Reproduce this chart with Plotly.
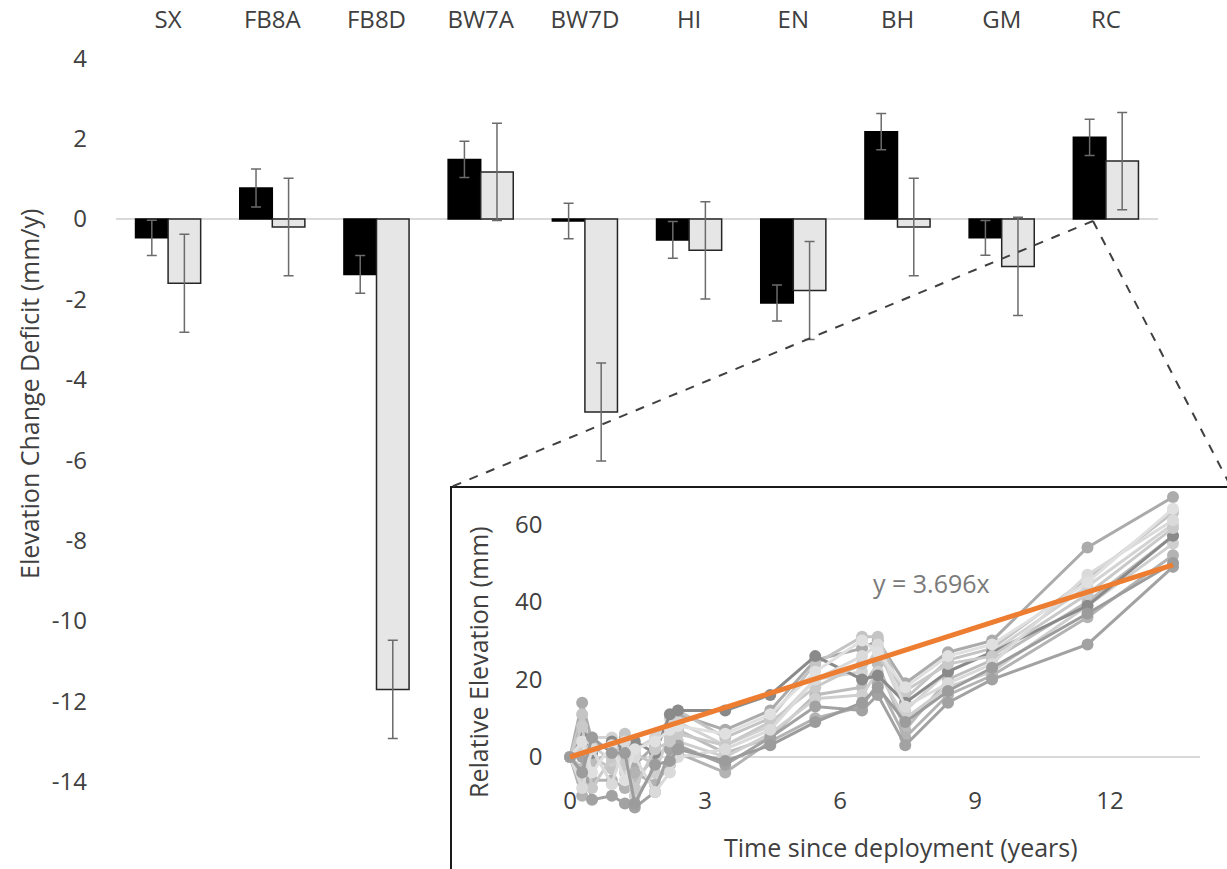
import plotly.graph_objects as go

# ---------------- main bar chart data ----------------
sites = ["SX", "FB8A", "FB8D", "BW7A", "BW7D", "HI", "EN", "BH", "GM", "RC"]
deficit_black = [-0.47, 0.77, -1.38, 1.48, -0.05, -0.52, -2.09, 2.17, -0.47, 2.03]
err_black = [0.44, 0.47, 0.47, 0.45, 0.44, 0.46, 0.45, 0.45, 0.43, 0.45]
deficit_gray = [-1.6, -0.2, -11.7, 1.17, -4.8, -0.78, -1.78, -0.2, -1.18, 1.44]
err_gray = [1.22, 1.21, 1.22, 1.21, 1.22, 1.21, 1.22, 1.21, 1.22, 1.21]
y_tick_vals = [-14, -12, -10, -8, -6, -4, -2, 0, 2, 4]
y_tick_text = ["-14", "-12", "-10", "-8", "-6", "-4", "-2", "0", "2", "4"]

# ---------------- inset data ----------------
times = [0, 0.27, 0.49, 0.93, 1.22, 1.44, 1.89, 2.22, 2.4, 3.45, 4.45,
         5.45, 6.49, 6.84, 7.45, 8.4, 9.38, 11.5, 13.4]
pin_01 = [0, 14, 4, 2, 5, -2, 3, 8, 11, 7, 12, 25, 28, 30, 19, 27, 30, 54, 67]
pin_02 = [0, 11, 0, -3, 6, 1, -2, 5, 12, 5, 10, 24, 31, 31, 15, 25, 28, 46, 63]
pin_03 = [0, 2, 5, 5, -4, 2, 5, 10, 9, 3, 8, 20, 22, 28, 12, 22, 27, 44, 60]
pin_04 = [0, -3, -2, 2, 0, -6, 0, 3, 7, 1, 5, 16, 18, 24, 7, 20, 25, 40, 57]
pin_05 = [0, -6, 3, -1, 3, -10, -4, 6, 4, 0, 6, 15, 16, 22, 10, 18, 22, 39, 55]
pin_06 = [0, -10, -6, -6, -8, -4, -7, -2, 1, -4, 4, 10, 13, 19, 5, 16, 21, 36, 52]
pin_07 = [0, 0, -11, -10, -12, -13, -9, 2, 3, -2, 5, 13, 12, 16, 3, 14, 20, 29, 49]
pin_08 = [0, 5, 1, 4, 2, 4, 1, 11, 12, 12, 16, 26, 20, 21, 14, 22, 27, 39, 57]
pin_09 = [0, 8, -8, 0, -2, -8, 2, 4, 6, 3, 9, 18, 24, 26, 17, 24, 26, 42, 59]
pin_10 = [0, -8, 2, -7, 4, 0, -9, -4, 0, 2, 7, 20, 26, 29, 13, 19, 24, 47, 61]
pin_11 = [0, 4, -4, 3, -6, 2, 4, 7, 8, 6, 11, 22, 30, 27, 18, 26, 29, 45, 64]
pin_12 = [0, -4, 5, 1, 1, -12, -2, -1, 2, -1, 3, 9, 14, 18, 9, 17, 23, 37, 50]
pins = [pin_01, pin_02, pin_03, pin_04, pin_05, pin_06,
        pin_07, pin_08, pin_09, pin_10, pin_11, pin_12]
pin_colors = ["#ababab", "#c4c4c4", "#d3d3d3", "#bcbcbc", "#cfcfcf", "#b3b3b3",
              "#a2a2a2", "#8a8a8a", "#c9c9c9", "#dadada", "#e0e0e0", "#9c9c9c"]
trend_slope = 3.696
trend_x = [0, 13.4]
inset_x_ticks = [0, 3, 6, 9, 12]
inset_y_ticks = [0, 20, 40, 60]

FONT = "Open Sans"
OFF = 0  # page body margin removed by post_script below
W, H = 1227 - OFF, 869 - OFF


def px(x):
    return (x - OFF) / W


def py(y):
    return 1 - (y - OFF) / H


# inset vertical mapping: 0 mm at y=757 px, 3.88 px per mm
Y0, K = 757, 3.88


def mm(ypix):
    return (Y0 - ypix) / K


TICK = 24
LAB = 25
TXT = "#404040"

fig = go.Figure()

fig.add_trace(go.Bar(
    x=sites, y=deficit_black, marker=dict(color="#000000", line=dict(color="#000000", width=1.5)),
    error_y=dict(type="data", array=err_black, color="#6b6b6b", thickness=1.5, width=5),
    xaxis="x", yaxis="y", showlegend=False))
fig.add_trace(go.Bar(
    x=sites, y=deficit_gray, marker=dict(color="#e6e6e6", line=dict(color="#262626", width=1.5)),
    error_y=dict(type="data", array=err_gray, color="#6b6b6b", thickness=1.5, width=5),
    xaxis="x", yaxis="y", showlegend=False))

# empty trace so that the tick-carrying inset axes get drawn
fig.add_trace(go.Scatter(x=[], y=[], xaxis="x2", yaxis="y2", showlegend=False,
                         hoverinfo="skip"))

for vals, col in zip(pins, pin_colors):
    fig.add_trace(go.Scatter(
        x=times, y=vals, mode="lines+markers",
        line=dict(color=col, width=3), marker=dict(color=col, size=12),
        xaxis="x3", yaxis="y3", showlegend=False, cliponaxis=False))

fig.add_trace(go.Scatter(
    x=trend_x, y=[trend_slope * v for v in trend_x], mode="lines",
    line=dict(color="#ed7d31", width=5), xaxis="x3", yaxis="y3", showlegend=False))

inset_xdom = [px(565.5), px(1200)]

fig.update_layout(
    width=W, height=H, margin=dict(l=0, r=0, t=0, b=0, autoexpand=False),
    paper_bgcolor="white", plot_bgcolor="rgba(0,0,0,0)",
    font=dict(family=FONT, color=TXT),
    barmode="group", bargap=0.375, bargroupgap=0,
    xaxis=dict(domain=[px(116), px(1158)], anchor="y", side="top", type="category",
               categoryorder="array", categoryarray=sites, automargin=False,
               showgrid=False, showline=False, zeroline=False, ticks="",
               tickfont=dict(size=TICK, color=TXT)),
    yaxis=dict(domain=[py(798), py(34)], anchor="x", range=[-14.4, 4.6],
               tickvals=y_tick_vals, ticktext=y_tick_text, automargin=False,
               showgrid=False, showline=False, zeroline=True,
               zerolinecolor="#d9d9d9", zerolinewidth=1.5, ticks="",
               ticklabelstandoff=28, tickfont=dict(size=TICK, color=TXT)),
    # inset axes carrying ticks and zero line
    xaxis2=dict(domain=inset_xdom, anchor="y2", range=[-0.1, 14], automargin=False,
                tickvals=inset_x_ticks, showgrid=False, showline=False, zeroline=False,
                ticks="", tickfont=dict(size=TICK, color=TXT)),
    yaxis2=dict(domain=[py(784), py(489)], anchor="x2", range=[mm(784), mm(489)],
                automargin=False,
                tickvals=inset_y_ticks, showgrid=False, showline=False, zeroline=True,
                zerolinecolor="#d9d9d9", zerolinewidth=1.5, ticks="",
                ticklabelstandoff=22, tickfont=dict(size=TICK, color=TXT)),
    # invisible overlay axes with the same scale but a taller area for the data
    xaxis3=dict(domain=inset_xdom, anchor="y3", range=[-0.1, 14], visible=False,
                automargin=False),
    yaxis3=dict(domain=[py(830), py(489)], anchor="x3", range=[mm(830), mm(489)],
                visible=False, automargin=False),
    shapes=[
        dict(type="rect", xref="paper", yref="paper", x0=px(451), x1=px(1245),
             y0=py(890), y1=py(487), line=dict(color="#1a1a1a", width=2),
             fillcolor="white", layer="below"),
        dict(type="line", xref="paper", yref="paper", x0=px(1093), y0=py(221),
             x1=px(451), y1=py(487), line=dict(color="#404040", width=2, dash="dash")),
        dict(type="line", xref="paper", yref="paper", x0=px(1093), y0=py(221),
             x1=px(1231), y1=py(487), line=dict(color="#404040", width=2, dash="dash")),
    ],
    annotations=[
        dict(text="Elevation Change Deficit (mm/y)", xref="paper", yref="paper",
             x=px(29), y=py(394), xanchor="center", yanchor="middle",
             textangle=-90, showarrow=False, font=dict(size=LAB, color=TXT)),
        dict(text="Relative Elevation (mm)", xref="paper", yref="paper",
             x=px(478), y=py(662), xanchor="center", yanchor="middle",
             textangle=-90, showarrow=False, font=dict(size=LAB, color=TXT)),
        dict(text="Time since deployment (years)", xref="paper", yref="paper",
             x=px(901), y=py(847), xanchor="center", yanchor="middle",
             showarrow=False, font=dict(size=LAB, color=TXT)),
        dict(text="y = 3.696x", xref="paper", yref="paper",
             x=px(932), y=py(583), xanchor="center", yanchor="middle",
             showarrow=False, font=dict(size=LAB, color="#7a7a7a")),
    ],
)

fig.write_html("out.html", config={"displayModeBar": False},
               post_script="document.body.style.margin='0';document.body.style.overflow='hidden';")
